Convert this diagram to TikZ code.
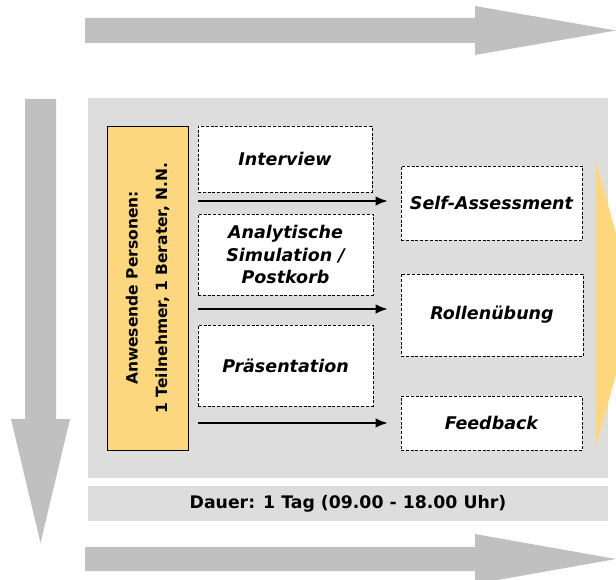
\documentclass[tikz,border=0pt]{standalone}
\usepackage{fontspec}
\setmainfont{DejaVu Sans}
\usetikzlibrary{arrows.meta}
\definecolor{arrowgray}{HTML}{C0C0C0}
\definecolor{panelgray}{HTML}{DDDDDD}
\definecolor{persyellow}{HTML}{FDD77D}
\tikzset{
	stepbox/.style={draw, line width=0.7pt, dash pattern=on 3pt off 1.8pt, fill=white, inner sep=2pt, align=center,
		font=\fontsize{17.5}{22.5}\selectfont\bfseries\itshape},
	flow/.style={line width=1.6pt, -{Latex[length=12pt,width=9.5pt]}, shorten >=13pt}
}
\begin{document}
\begin{tikzpicture}[x=1pt,y=-1pt]
		\useasboundingbox (0,0) rectangle (616,580);
		
		% Time arrows
		\fill[arrowgray] (85,18) -- (475,18) -- (475,6) -- (616,30.5) -- (475,55) -- (475,43) -- (85,43) -- cycle;
		\fill[arrowgray] (85,547) -- (475,547) -- (475,534) -- (616,559) -- (475,584) -- (475,571) -- (85,571) -- cycle;
		\fill[arrowgray] (25,99) -- (56,99) -- (56,419) -- (70,419) -- (40.5,543) -- (11,419) -- (25,419) -- cycle;
		
		% Panel
		\fill[panelgray] (88,98) rectangle (608,478);
		\fill[persyellow] (596,163) -- (616,233) -- (616,375) -- (596,445) -- cycle;
		
		% Duration
		\fill[panelgray] (88,486) rectangle (608,521);
		\node (dauer) at (348,503.5) {\fontsize{17.3}{19}\selectfont\bfseries Dauer: 1 Tag (09.00 - 18.00 Uhr)};
		
		% Persons
		\node[draw, line width=0.6pt, fill=persyellow, minimum width=81, minimum height=324] (pers) at (147.5,288) {};
		\node[rotate=90, align=center, font=\fontsize{15.5}{29.5}\selectfont\bfseries] (perstext) at (pers.center) {Anwesende Personen:\\1 Teilnehmer, 1 Berater, N.N.};
		
		% Left column
		\node[stepbox, minimum width=174, minimum height=66] (interview) at (285,159) {Interview};
		\node[stepbox, minimum width=175, minimum height=81] (analyse) at (285.5,254.5) {Analytische\\Simulation /\\Postkorb};
		\node[stepbox, minimum width=175, minimum height=81] (praes) at (285.5,365.5) {Präsentation};
		
		% Right column
		\node[stepbox, minimum width=181, minimum height=74] (self) at (491.5,203) {Self-Assessment};
		\node[stepbox, minimum width=182, minimum height=82] (rolle) at (492,315) {Rollenübung};
		\node[stepbox, minimum width=181, minimum height=54] (feedback) at (491.5,423) {Feedback};
		
		% Flow lines
		\coordinate (f1) at (198,201);
		\coordinate (f2) at (198,309);
		\coordinate (f3) at (198,423);
		\draw[flow] (f1) -- (self.west |- f1);
		\draw[flow] (f2) -- (rolle.west |- f2);
		\draw[flow] (f3) -- (feedback.west |- f3);
	\end{tikzpicture}
\end{document}
